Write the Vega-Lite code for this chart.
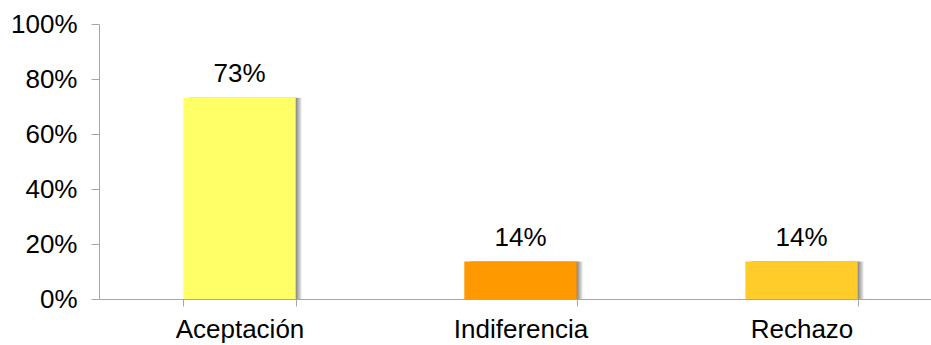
{
  "$schema": "https://vega.github.io/schema/vega-lite/v6.json",
  "autosize": "none",
  "padding": {"left": 99, "top": 24, "right": 10, "bottom": 46},
  "width": 843,
  "height": 275,
  "background": "white",
  "config": {"view": {"stroke": null}, "font": "Liberation Sans"},
  "data": {"values": [
    {"categoria": "Aceptación", "valor": 0.732},
    {"categoria": "Indiferencia", "valor": 0.136},
    {"categoria": "Rechazo", "valor": 0.136}
  ]},
  "encoding": {
    "x": {"field": "categoria", "type": "nominal", "sort": null,
      "scale": {"paddingInner": 0.6, "paddingOuter": 0.3},
      "axis": {"title": null, "labelAngle": 0, "labelFontSize": 26, "labelColor": "#000000",
        "labelFont": "Liberation Sans", "labelPadding": 10, "tickBand": "extent", "tickSize": 7,
        "domainColor": "#a6a6a6", "tickColor": "#a6a6a6", "grid": false}},
    "y": {"field": "valor", "type": "quantitative",
      "scale": {"domain": [0, 1], "nice": false},
      "axis": {"title": null, "format": ".0%", "values": [0, 0.2, 0.4, 0.6, 0.8, 1],
        "labelFontSize": 26, "labelColor": "#000000", "labelFont": "Liberation Sans",
        "labelPadding": 14, "tickSize": 8, "grid": false,
        "domainColor": "#a6a6a6", "tickColor": "#a6a6a6"}}
  },
  "layer": [
    {"mark": {"type": "bar", "xOffset": 6,
      "color": {"gradient": "linear", "x1": 0, "x2": 1, "y1": 0, "y2": 0,
        "stops": [{"offset": 0, "color": "#7a7a7a"}, {"offset": 0.95, "color": "#8a8a8a"}, {"offset": 1, "color": "#f0f0f0"}]}}},
    {"mark": {"type": "bar"},
      "encoding": {"color": {"field": "categoria", "type": "nominal", "legend": null,
        "scale": {"domain": ["Aceptación", "Indiferencia", "Rechazo"], "range": ["#FFFF66", "#FF9900", "#FFCC29"]}}}},
    {"mark": {"type": "text", "baseline": "alphabetic", "dy": -16, "fontSize": 26, "color": "#000000", "font": "Liberation Sans"},
      "encoding": {"text": {"field": "valor", "type": "quantitative", "format": ".0%"}}}
  ]
}
